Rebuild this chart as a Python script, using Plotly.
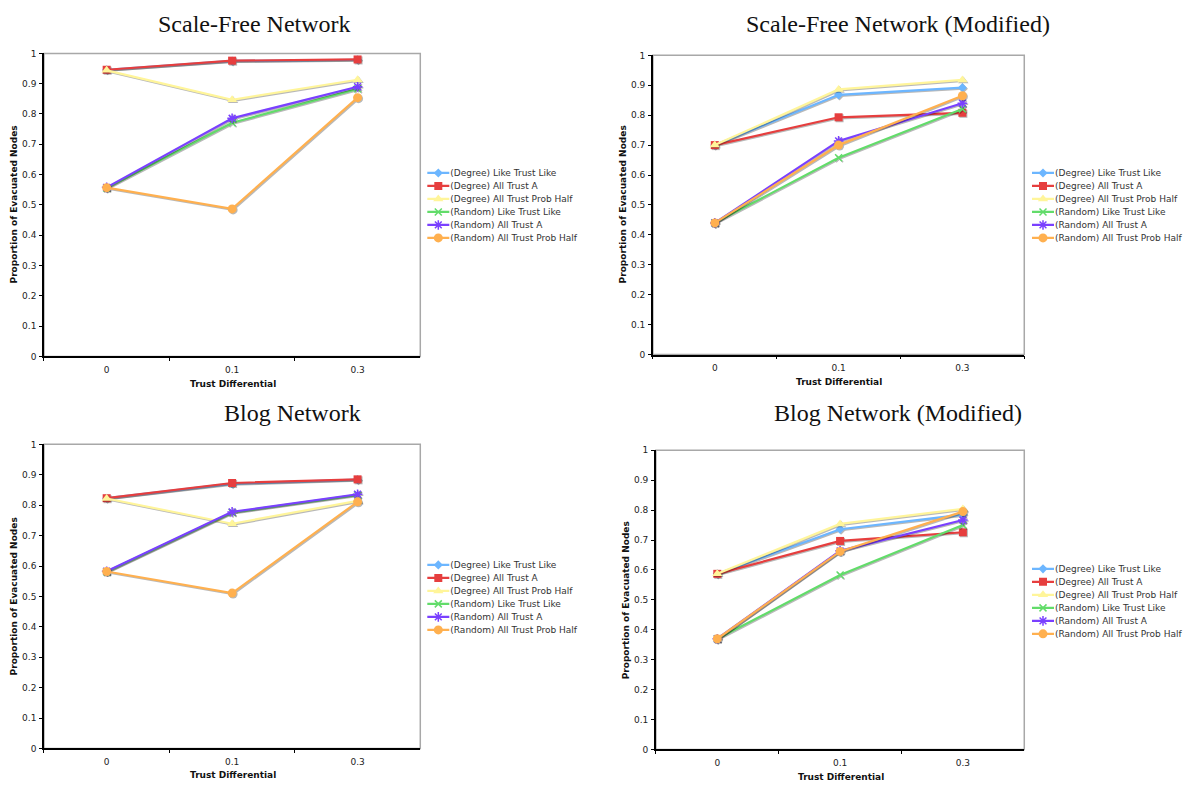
import plotly.graph_objects as go

categories = ["0", "0.1", "0.3"]

series_names = [
    "(Degree) Like Trust Like",
    "(Degree) All Trust A",
    "(Degree) All Trust Prob Half",
    "(Random) Like Trust Like",
    "(Random) All Trust A",
    "(Random) All Trust Prob Half",
]

# Scale-Free Network
sf_deg_like = [0.946, 0.975, 0.979]
sf_deg_alla = [0.946, 0.976, 0.980]
sf_deg_half = [0.944, 0.847, 0.913]
sf_rnd_like = [0.556, 0.771, 0.883]
sf_rnd_alla = [0.558, 0.786, 0.890]
sf_rnd_half = [0.557, 0.487, 0.854]

# Scale-Free Network (Modified)
sfm_deg_like = [0.700, 0.868, 0.892]
sfm_deg_alla = [0.700, 0.793, 0.808]
sfm_deg_half = [0.700, 0.886, 0.918]
sfm_rnd_like = [0.440, 0.658, 0.821]
sfm_rnd_alla = [0.440, 0.714, 0.840]
sfm_rnd_half = [0.440, 0.700, 0.865]

# Blog Network
bl_deg_like = [0.823, 0.871, 0.884]
bl_deg_alla = [0.823, 0.873, 0.885]
bl_deg_half = [0.822, 0.739, 0.814]
bl_rnd_like = [0.581, 0.776, 0.834]
bl_rnd_alla = [0.583, 0.778, 0.836]
bl_rnd_half = [0.582, 0.511, 0.811]

# Blog Network (Modified)
blm_deg_like = [0.587, 0.736, 0.785]
blm_deg_alla = [0.587, 0.697, 0.726]
blm_deg_half = [0.587, 0.754, 0.804]
blm_rnd_like = [0.370, 0.583, 0.750]
blm_rnd_alla = [0.370, 0.664, 0.767]
blm_rnd_half = [0.370, 0.662, 0.795]

panel_titles = ["Scale-Free Network", "Scale-Free Network (Modified)",
                "Blog Network", "Blog Network (Modified)"]

panels = [
    [sf_deg_like, sf_deg_alla, sf_deg_half, sf_rnd_like, sf_rnd_alla, sf_rnd_half],
    [sfm_deg_like, sfm_deg_alla, sfm_deg_half, sfm_rnd_like, sfm_rnd_alla, sfm_rnd_half],
    [bl_deg_like, bl_deg_alla, bl_deg_half, bl_rnd_like, bl_rnd_alla, bl_rnd_half],
    [blm_deg_like, blm_deg_alla, blm_deg_half, blm_rnd_like, blm_rnd_alla, blm_rnd_half],
]

colors = ["#6CB6FF", "#E63E3E", "#FFF59A", "#62DC6A", "#7A40FF", "#FFB04F"]
symbols = ["diamond", "square", "triangle-up", "x-thin", "asterisk", "circle"]
sizes = [7, 8, 9, 7, 8, 9]

W, H = 1188, 790

def px_x(p):
    return p / W

def px_y(p):
    return 1 - p / H

# plot rectangles in pixels: (left, right, top, bottom)
rects = [
    (44, 421, 49, 356),
    (654, 1026, 51, 354),
    (44, 421, 445, 753),
    (657, 1026, 451, 754),
]
title_pos = [(255, 19), (900, 19), (293, 413), (900, 413)]
xtitle_pos = [(233, 384), (840, 382), (233, 780), (842, 782)]
ytitle_pos = [(14, 202), (624, 202), (14, 599), (627, 603)]
legend_pos = [(411, 203), (1017, 203), (411, 600), (1017, 604)]

fig = go.Figure()
layout = dict(
    width=W, height=H,
    margin=dict(l=0, r=0, t=0, b=0),
    paper_bgcolor="white", plot_bgcolor="white",
    font=dict(family="DejaVu Sans", size=9, color="#222"),
    annotations=[], shapes=[],
)

for i, data in enumerate(panels):
    sfx = "" if i == 0 else str(i + 1)
    xa = "x" + sfx
    ya = "y" + sfx
    leg = "legend" + sfx
    for j, vals in enumerate(data):
        fig.add_trace(go.Scatter(
            x=categories, y=vals, name=series_names[j],
            xaxis=xa, yaxis=ya, legend=leg,
            mode="lines+markers",
            line=dict(color=colors[j], width=2.2),
            marker=dict(symbol=symbols[j], size=sizes[j], color=colors[j],
                        line=dict(color=colors[j], width=1.5 if j in (3, 4) else 0)),
        ))
    l, r, t, b = rects[i]
    layout["xaxis" + sfx] = dict(
        domain=[px_x(l), px_x(r)], anchor=ya, type="category",
        range=[-0.5, 2.5], tickson="boundaries", ticks="outside", ticklen=3,
        tickcolor="#000", showline=True, linecolor="#000", linewidth=1.5,
        showgrid=False, zeroline=False, tickfont=dict(size=9, color="#222"),
        ticklabelstandoff=4,
    )
    layout["yaxis" + sfx] = dict(
        domain=[px_y(b), px_y(t)], anchor=xa, range=[0, 1], dtick=0.1,
        ticks="outside", ticklen=3, tickcolor="#000", showline=True,
        linecolor="#000", linewidth=1.5, showgrid=False, zeroline=False,
        tickfont=dict(size=9, color="#222"), ticklabelstandoff=1,
    )
    layout["shapes"].append(dict(
        type="rect", xref=xa + " domain", yref=ya + " domain",
        x0=0, x1=1, y0=0, y1=1, line=dict(color="#A8A8A8", width=1.5),
        layer="below",
    ))
    tx, ty = title_pos[i]
    layout["annotations"].append(dict(
        text=panel_titles[i], x=px_x(tx), y=px_y(ty), xref="paper", yref="paper",
        xanchor="center", yanchor="middle", showarrow=False,
        font=dict(family="Liberation Serif", size=24, color="#111"),
    ))
    xx, xy = xtitle_pos[i]
    layout["annotations"].append(dict(
        text="<b>Trust Differential</b>", x=px_x(xx), y=px_y(xy),
        xref="paper", yref="paper", xanchor="center", yanchor="middle",
        showarrow=False, font=dict(size=9, color="#111"),
    ))
    yx, yy = ytitle_pos[i]
    layout["annotations"].append(dict(
        text="<b>Proportion of Evacuated Nodes</b>", x=px_x(yx), y=px_y(yy),
        xref="paper", yref="paper", xanchor="center", yanchor="middle",
        textangle=-90, showarrow=False, font=dict(size=9, color="#111"),
    ))
    lx, ly = legend_pos[i]
    layout[leg] = dict(
        x=px_x(lx), y=px_y(ly), xanchor="left", yanchor="middle",
        xref="paper", yref="paper", bgcolor="rgba(0,0,0,0)",
        font=dict(family="DejaVu Sans", size=9, color="#333"),
        itemwidth=30, tracegroupgap=0,
    )

fig.update_layout(**layout)

# page tweaks: no body margin, soft line shadows, compact legend rows and
# shorter legend samples
post = """
document.body.style.margin = '0';
var gd = document.querySelector('.plotly-graph-div');
gd.querySelectorAll('g.scatterlayer g.trace').forEach(function (t) {
  t.style.filter = 'drop-shadow(1px 1.5px 0.6px rgba(0,0,0,0.28))';
});
['legend', 'legend2', 'legend3', 'legend4'].forEach(function (cls) {
  var leg = gd.querySelector('g.' + cls);
  if (!leg) return;
  var items = leg.querySelectorAll('g.traces');
  var pos = [];
  items.forEach(function (it) {
    var m = /translate\\(([-\\d.e]+)[ ,]+([-\\d.e]+)\\)/.exec(it.getAttribute('transform') || '');
    pos.push(m ? [parseFloat(m[1]), parseFloat(m[2])] : [0, 0]);
  });
  var n = items.length;
  if (n < 2) return;
  var step = 13;
  var oldStep = pos[1][1] - pos[0][1];
  var shift = (oldStep - step) * (n - 1) / 2;
  items.forEach(function (it, i) {
    it.setAttribute('transform', 'translate(' + pos[i][0] + ',' + (pos[0][1] + shift + i * step) + ')');
    it.querySelectorAll('g.legendlines path').forEach(function (p) {
      p.setAttribute('d', 'M17,0h22');
    });
    it.querySelectorAll('g.legendsymbols path.scatterpts').forEach(function (p) {
      p.setAttribute('transform', 'translate(28,0)');
    });
  });
});
"""

fig.write_html("out.html", post_script=post, config={"displayModeBar": False})
